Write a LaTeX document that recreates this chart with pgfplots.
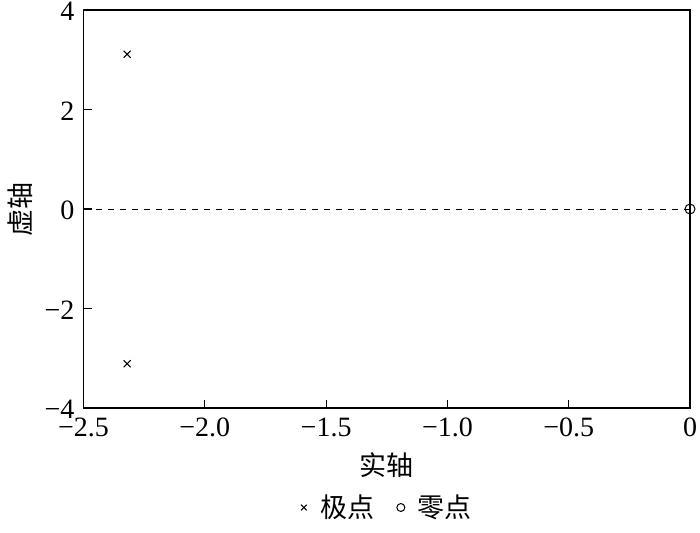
\documentclass[border=0pt]{standalone}
\usepackage{pgfplots}
\pgfplotsset{compat=1.18}
\usepackage{fontspec}
\setmainfont{Liberation Serif}
\newfontfamily\cjk{Noto Sans CJK SC}
\begin{document}
\begin{tikzpicture}
\useasboundingbox (-41.75pt,-62pt) rectangle (308.25pt,204pt);
\begin{axis}[
  scale only axis, width=303.25pt, height=199pt,
  xmin=-2.5, xmax=0, ymin=-4, ymax=4,
  clip=false,
  axis line style={line width=0.6pt},
  tick style={line width=0.6pt, black},
  tick align=inside, major tick length=4pt,
  xtick pos=bottom, ytick pos=left,
  xtick={-2.5,-2,-1.5,-1,-0.5,0},
  xticklabels={−2.5,−2.0,−1.5,−1.0,−0.5,0},
  ytick={-4,-2,0,2,4},
  yticklabels={−4,−2,0,2,4},
  ticklabel style={font=\fontsize{14}{16}\selectfont},
  xticklabel style={yshift=-1.5pt},
  yticklabel style={xshift=-1pt, yshift=-0.8pt},
  xlabel={\cjk 实轴}, ylabel={\cjk 虚轴},
  label style={font=\fontsize{13.5}{15}\selectfont},
  xlabel style={at={(axis description cs:0.5,0)}, yshift=-28.5pt, anchor=center},
  ylabel style={at={(axis description cs:0,0.5)}, yshift=31.75pt, anchor=center},
  legend style={at={(axis description cs:0.5,-0.25)}, anchor=center, draw=none,
    font=\fontsize{13.5}{15}\selectfont\cjk, legend columns=2,
    /tikz/every even column/.append style={column sep=8pt}},
  legend image code/.code={\path (-0.1cm,0cm) (0.22cm,0cm); \draw[#1, mark size=2pt] plot coordinates {(0cm,0cm)};},
]
\addplot[black, dashed, line width=0.4pt, forget plot] coordinates {(-2.5,0) (0,0)};
\addplot[only marks, mark=x, mark size=2.5pt, mark options={line width=0.5pt}, black] coordinates {(-2.32,3.11) (-2.32,-3.11)};
\addlegendentry{极点}
\addplot[only marks, mark=o, mark size=2.5pt, mark options={line width=0.5pt}, black] coordinates {(0,0)};
\addlegendentry{零点}
\end{axis}
\end{tikzpicture}
\end{document}
